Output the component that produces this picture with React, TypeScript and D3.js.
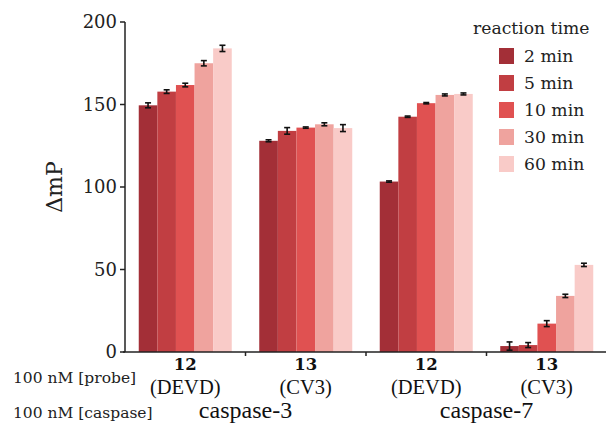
import React from 'react';
import * as d3 from 'd3';

const groups = ['c3-12', 'c3-13', 'c7-12', 'c7-13'];
const probeNum = ['12', '13', '12', '13'];
const probeName = ['(DEVD)', '(CV3)', '(DEVD)', '(CV3)'];
const caspases = ['caspase-3', 'caspase-7'];
const times = ['2 min', '5 min', '10 min', '30 min', '60 min'];
const colors = ['#a32f37', '#c13e42', '#e05151', '#efa39e', '#f9cbc8'];

// mean values per group, one array per reaction time
const t2 = [149.5, 128, 103.3, 3.6];
const t5 = [157.8, 134, 142.6, 4.2];
const t10 = [161.8, 136, 150.8, 17.2];
const t30 = [175, 138, 155.8, 34];
const t60 = [184, 135.7, 156.4, 52.8];
const e2 = [1.5, 0.6, 0.4, 2.5];
const e5 = [1.1, 2, 0.4, 1.5];
const e10 = [1.1, 0.4, 0.4, 1.8];
const e30 = [1.6, 0.9, 0.6, 1];
const e60 = [1.9, 2.1, 0.6, 1];
const yTicks = [0, 50, 100, 150, 200];

const values = [t2, t5, t10, t30, t60];
const errors = [e2, e5, e10, e30, e60];

const serif = '"DejaVu Serif", "Liberation Serif", serif';
const times_ = '"Liberation Serif", serif';

export default function App() {
  const width = 606, height = 423;
  const x0 = d3.scaleBand().domain(groups).range([125, 607]);
  const bw = x0.bandwidth();
  const x1 = d3.scaleBand().domain(times).range([(bw - 93) / 2, (bw + 93) / 2]);
  const y = d3.scaleLinear().domain([0, 200]).range([352, 22]);

  return (
    <svg width={width} height={height} style={{ position: 'absolute', left: 0, top: 0 }}>
      {/* bars */}
      {groups.map((g, gi) => (
        <g key={g} transform={`translate(${x0(g)},0)`}>
          {times.map((t, ti) => {
            const v = values[ti][gi];
            const e = errors[ti][gi];
            const bx = x1(t)!;
            const cx = bx + x1.bandwidth() / 2;
            return (
              <g key={t}>
                <rect x={bx} y={y(v)} width={x1.bandwidth()} height={y(0) - y(v)} fill={colors[ti]} />
                <line x1={cx} x2={cx} y1={y(v - e)} y2={y(v + e)} stroke="#111" strokeWidth={1.6} />
                <line x1={cx - 3} x2={cx + 3} y1={y(v - e)} y2={y(v - e)} stroke="#111" strokeWidth={1.6} />
                <line x1={cx - 3} x2={cx + 3} y1={y(v + e)} y2={y(v + e)} stroke="#111" strokeWidth={1.6} />
              </g>
            );
          })}
        </g>
      ))}

      {/* y axis */}
      <line x1={125} x2={125} y1={y(200)} y2={y(0)} stroke="#222" strokeWidth={1.5} />
      {yTicks.map(t => (
        <g key={t}>
          <line x1={120} x2={125} y1={y(t)} y2={y(t)} stroke="#222" strokeWidth={1.5} />
          <text x={117} y={y(t)} dy="0.35em" textAnchor="end" fontFamily={serif} fontSize={18} fill="#222">{t}</text>
        </g>
      ))}
      <text transform={`translate(62,${187}) rotate(-90)`} textAnchor="middle" fontFamily={serif} fontSize={22} fill="#222">ΔmP</text>

      {/* x axis */}
      <line x1={123} x2={606} y1={352} y2={352} stroke="#222" strokeWidth={1.5} />
      {groups.slice(1).map(g => (
        <line key={g} x1={x0(g)!} x2={x0(g)!} y1={352} y2={356} stroke="#222" strokeWidth={1.5} />
      ))}
      {groups.map((g, gi) => (
        <g key={g}>
          <text x={x0(g)! + bw / 2} y={370} textAnchor="middle" fontFamily={serif} fontWeight="bold" fontSize={16.5} fill="#111">{probeNum[gi]}</text>
          <text x={x0(g)! + bw / 2} y={394} textAnchor="middle" fontFamily={times_} fontSize={20.5} fill="#111">{probeName[gi]}</text>
        </g>
      ))}
      {caspases.map((c, ci) => (
        <text key={c} x={x0(groups[ci * 2 + 1])!} y={418} textAnchor="middle" fontFamily={times_} fontSize={24} fill="#111">{c}</text>
      ))}
      <text x={13} y={383} fontFamily={serif} fontSize={15.5} fill="#222">100 nM [probe]</text>
      <text x={13} y={418} fontFamily={serif} fontSize={15.5} fill="#222">100 nM [caspase]</text>

      {/* legend */}
      <text x={473} y={34} fontFamily={serif} fontSize={17.2} fill="#222">reaction time</text>
      {times.map((t, ti) => (
        <g key={t} transform={`translate(499,${48 + ti * 27})`}>
          <rect width={15} height={16} fill={colors[ti]} />
          <text x={25} y={8} dy="0.35em" fontFamily={serif} fontSize={17.2} fill="#222">{t}</text>
        </g>
      ))}
    </svg>
  );
}
